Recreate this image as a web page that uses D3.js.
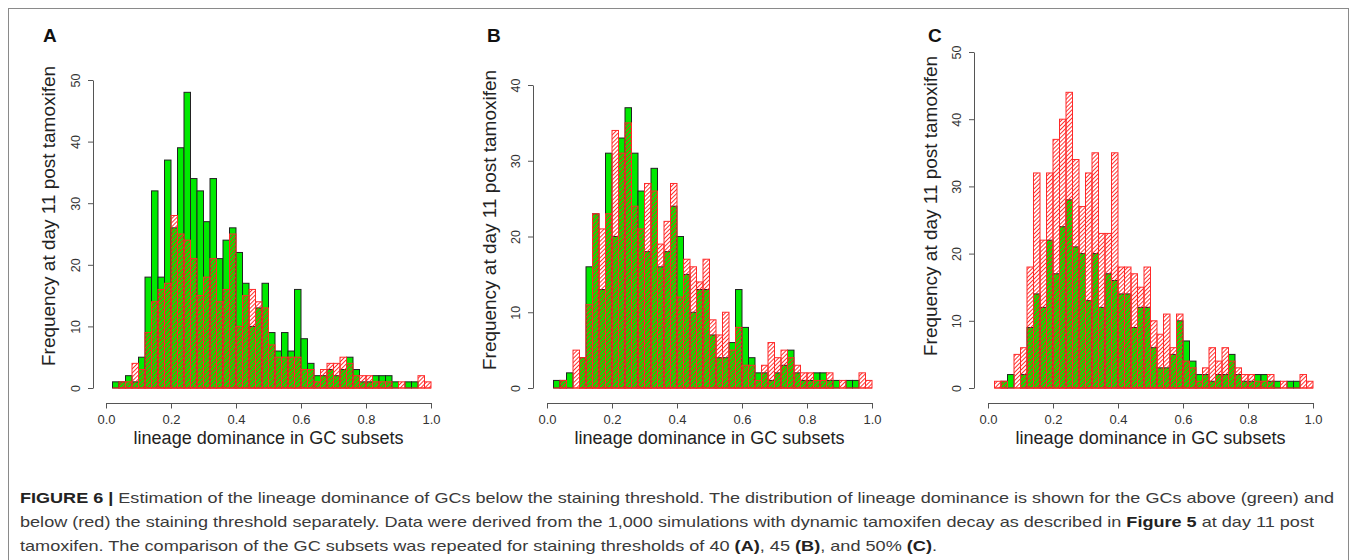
<!DOCTYPE html>
<html><head><meta charset="utf-8">
<script src="https://cdn.jsdelivr.net/npm/d3@7"></script>
<style>body{margin:0;background:#fff}svg{display:block}</style>
</head><body>
<svg id="chart" width="1357" height="560"></svg>
<script>
// ---- data (counts per bin of width 0.02, bins 0.00-0.02 ... 0.98-1.00) ----
const binWidth = 0.02;
const aAbove = [0,1,1,2,1,5,18,32,18,37,26,39,48,34,32,27,34,21,24,26,22,17,10,13,17,9,6,9,6,16,8,4,2,2,3,2,3,5,3,1,1,2,2,2,1,0,1,1,0,0];
const aBelow = [0,0,1,1,4,3,9,14,16,17,28,25,24,21,15,18,21,14,16,25,10,15,16,14,13,7,5,5,5,5,3,3,1,3,4,4,5,4,2,2,2,1,1,1,0,1,0,0,2,1];
const bAbove = [0,1,1,2,0,4,16,23,13,31,20,33,37,31,26,18,29,16,18,24,20,15,10,13,13,7,4,4,6,13,8,4,2,2,1,2,3,5,2,1,1,2,2,1,1,0,1,1,0,0];
const bBelow = [0,0,1,0,5,4,11,23,21,23,34,31,35,24,21,27,26,19,22,27,12,17,16,14,17,9,7,10,5,8,3,3,1,3,6,4,5,4,3,2,2,1,1,2,0,1,0,0,2,1];
const cAbove = [0,0,1,2,0,2,9,14,12,22,17,24,28,21,20,13,20,12,17,16,14,14,9,12,12,6,3,3,5,10,7,4,2,2,1,2,2,5,2,1,1,2,2,1,1,0,1,1,0,0];
const cBelow = [0,1,1,0,5,6,18,32,22,32,37,40,44,34,27,32,35,23,23,35,18,18,17,15,18,10,8,11,6,11,4,3,1,3,6,4,6,4,3,2,2,1,1,2,0,1,0,0,2,1];
const xTicks = [0, 0.2, 0.4, 0.6, 0.8, 1.0];
const xTickLabels = ["0.0", "0.2", "0.4", "0.6", "0.8", "1.0"];
const yTicksA = [0, 10, 20, 30, 40, 50];
const yTicksB = [0, 10, 20, 30, 40];
const yTicksC = [0, 10, 20, 30, 40, 50];
const panelLetters = ["A", "B", "C"];
const xTitle = "lineage dominance in GC subsets";
const yTitle = "Frequency at day 11 post tamoxifen";

const svg = d3.select("#chart");
const FONT = "'Liberation Sans', Arial, Helvetica, sans-serif";

// hatch pattern for "below" bars
const defs = svg.append("defs");
defs.append("pattern").attr("id", "hatch").attr("patternUnits", "userSpaceOnUse")
  .attr("width", 2.9).attr("height", 2.9).attr("patternTransform", "rotate(45)")
  .append("line").attr("x1", 0.5).attr("y1", 0).attr("x2", 0.5).attr("y2", 2.9)
  .attr("stroke", "#ff1a1a").attr("stroke-width", 0.9);

// outer frame
svg.append("rect").attr("x", 8.5).attr("y", 8.5).attr("width", 1340).attr("height", 620)
  .attr("fill", "none").attr("stroke", "#8a8a8a").attr("stroke-width", 1);

const panels = [
  {letter: panelLetters[0], above: aAbove, below: aBelow, yMax: 50, yTicks: yTicksA,
   x0: 106, y0: 388, yTop: 80, axisX: 93, letterX: 43, titleX: 55, titleY: 216},
  {letter: panelLetters[1], above: bAbove, below: bBelow, yMax: 40, yTicks: yTicksB,
   x0: 547, y0: 388, yTop: 85, axisX: 533, letterX: 487, titleX: 496, titleY: 220},
  {letter: panelLetters[2], above: cAbove, below: cBelow, yMax: 50, yTicks: yTicksC,
   x0: 988, y0: 388, yTop: 52, axisX: 974, letterX: 928, titleX: 937, titleY: 206}
];

panels.forEach(p => {
  const g = svg.append("g");
  const x = d3.scaleLinear().domain([0, 1]).range([p.x0, p.x0 + 325]);
  const y = d3.scaleLinear().domain([0, p.yMax]).range([p.y0, p.yTop]);
  const bins = p.above.map((v, i) => ({x: i * binWidth, a: v, b: p.below[i]}));

  // green (above threshold)
  g.append("g").selectAll("rect").data(bins.filter(d => d.a > 0)).join("rect")
    .attr("x", d => x(d.x)).attr("width", d => x(d.x + binWidth) - x(d.x))
    .attr("y", d => y(d.a)).attr("height", d => y(0) - y(d.a))
    .attr("fill", "#00ea00").attr("stroke", "#222").attr("stroke-width", 1);

  // red hatched (below threshold)
  g.append("g").selectAll("rect").data(bins.filter(d => d.b > 0)).join("rect")
    .attr("x", d => x(d.x)).attr("width", d => x(d.x + binWidth) - x(d.x))
    .attr("y", d => y(d.b)).attr("height", d => y(0) - y(d.b))
    .attr("fill", "url(#hatch)").attr("stroke", "#ff2a2a").attr("stroke-width", 1);

  // zero-height bins along baseline
  g.append("line").attr("x1", x(binWidth)).attr("x2", x(1)).attr("y1", y(0)).attr("y2", y(0))
    .attr("stroke", "#ff2a2a").attr("stroke-width", 1);

  // x axis
  const xa = g.append("g").attr("transform", `translate(0,${p.y0 + 15})`)
    .call(d3.axisBottom(x).tickValues(xTicks).tickFormat((d, i) => xTickLabels[i])
      .tickSizeOuter(0).tickSizeInner(5.5).tickPadding(6));
  xa.select(".domain").attr("stroke", "#555");
  xa.selectAll(".tick line").attr("stroke", "#555");
  xa.selectAll(".tick text").attr("font-family", FONT).attr("font-size", 13).attr("fill", "#333");

  // y axis
  const ya = g.append("g").attr("transform", `translate(${p.axisX},0)`)
    .call(d3.axisLeft(y).tickValues(p.yTicks).tickFormat(d3.format("d"))
      .tickSizeOuter(0).tickSizeInner(5));
  ya.select(".domain").attr("stroke", "#555");
  ya.selectAll(".tick line").attr("stroke", "#555");
  ya.selectAll(".tick text").attr("font-family", FONT).attr("font-size", 12.5).attr("fill", "#333")
    .attr("transform", "rotate(-90)").attr("text-anchor", "middle")
    .attr("x", 0).attr("y", -13).attr("dy", 0);

  // axis titles
  g.append("text").attr("x", x(0.5)).attr("y", 444).attr("text-anchor", "middle")
    .attr("font-family", FONT).attr("font-size", 18).attr("fill", "#222")
    .attr("textLength", 270).attr("lengthAdjust", "spacingAndGlyphs").text(xTitle);
  g.append("text").attr("transform", `translate(${p.titleX},${p.titleY}) rotate(-90)`)
    .attr("text-anchor", "middle").attr("font-family", FONT).attr("font-size", 18.5).attr("fill", "#222")
    .attr("textLength", 300).attr("lengthAdjust", "spacingAndGlyphs").text(yTitle);

  // panel letter
  g.append("text").attr("x", p.letterX).attr("y", 42).attr("font-family", FONT)
    .attr("font-weight", "bold").attr("font-size", 19).attr("fill", "#111").text(p.letter);
});

// caption
const captionLines = [
  {y: 503, len: 1314, parts: [["FIGURE 6 | ", true], ["Estimation of the lineage dominance of GCs below the staining threshold. The distribution of lineage dominance is shown for the GCs above (green) and", false]]},
  {y: 527, len: 1294, parts: [["below (red) the staining threshold separately. Data were derived from the 1,000 simulations with dynamic tamoxifen decay as described in ", false], ["Figure 5", true], [" at day 11 post", false]]},
  {y: 551, len: 917, parts: [["tamoxifen. The comparison of the GC subsets was repeated for staining thresholds of 40 ", false], ["(A)", true], [", 45 ", false], ["(B)", true], [", and 50% ", false], ["(C)", true], [".", false]]}
];
captionLines.forEach(l => {
  const t = svg.append("text").attr("x", 20).attr("y", l.y)
    .attr("font-family", "'Liberation Sans Narrow', 'Liberation Sans', Arial, sans-serif")
    .attr("font-size", 15).attr("fill", "#3a3a3a")
    .attr("textLength", l.len).attr("lengthAdjust", "spacingAndGlyphs");
  l.parts.forEach(([s, b]) => t.append("tspan").attr("font-weight", b ? "bold" : "normal")
    .attr("fill", b ? "#222" : "#3a3a3a").text(s));
});
</script>
</body></html>
